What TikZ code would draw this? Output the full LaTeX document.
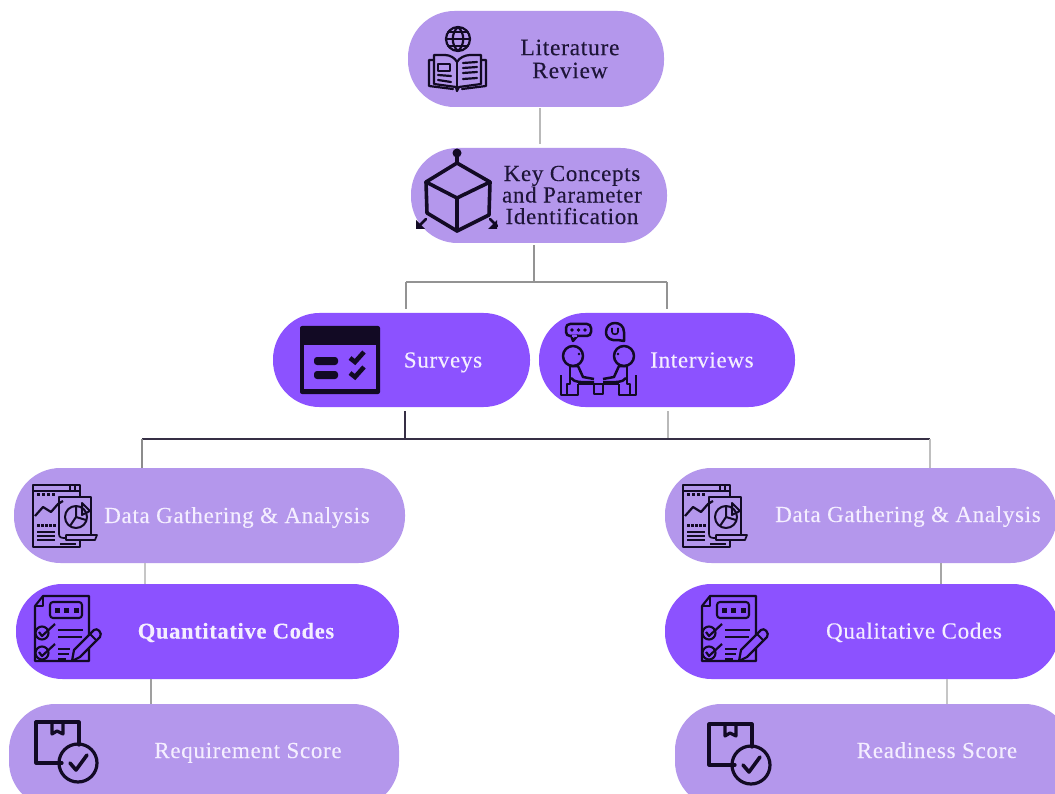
\documentclass[tikz,border=0pt]{standalone}
\usepackage{fontspec}
\setmainfont[LetterSpace=3,FakeBold=0.2]{Liberation Serif}
\definecolor{lightp}{HTML}{B497EC}
\definecolor{darkp}{HTML}{8C52FF}
\definecolor{ink}{HTML}{120A24}
\definecolor{pale}{HTML}{F4EEFF}
\definecolor{darktext}{HTML}{1E1538}
\tikzset{
  x=1pt,y=-1pt,
  pill/.style={rectangle,rounded corners=46.5pt,inner sep=0pt,minimum height=95pt},
  lightpill/.style={pill,fill=lightp},
  darkpill/.style={pill,fill=darkp},
  labeldark/.style={text=darktext,align=center,font=\fontsize{23.5}{23}\selectfont,inner sep=0pt},
  labelpale/.style={text=pale,anchor=base,font=\fontsize{23}{24}\selectfont,inner sep=0pt},
  conn/.style={line width=1.3pt,color=gray!60,shorten >=3pt,shorten <=1pt},
  connfull/.style={line width=1.2pt,color=#1},
  icon/.style={draw=ink,line width=2pt,line join=round,line cap=round},
  iconthin/.style={draw=ink,line width=1.7pt,line join=round},
}
\newcommand{\dataicon}[2]{%
\begin{scope}[shift={(#1,#2)},iconthin]
  \draw (33,485) rectangle (80,547);
  \draw (33,491) -- (80,491);
  \draw (70,485) -- (70,491) (75,485) -- (75,491);
  \fill[lightp] (59,497) rectangle (91,535);
  \draw (59,534) -- (59,497) -- (91,497) -- (91,535);
  \draw (59,534) .. controls (59,538) and (62,538) .. (66,538);
  \draw[fill=lightp] (66,535) -- (97,535) -- (95,540) -- (66,540) -- cycle;
  \draw[line width=2pt] (76,517) circle (11);
  \draw[line width=2pt] (76,517) -- (76,506) (76,517) -- (70,526) (76,517) -- (86,520);
  \draw[line width=2pt] (82,503) -- (90,511) -- (82,515) -- cycle;
  \draw[line width=2.2pt] (35,516) -- (43,507) -- (51,512) -- (58,504) -- (63,501);
  \foreach \xx in {37,42,47,52} \fill[ink] (\xx,493) rectangle +(3,2.5);
  \foreach \xx in {37,41,45,49,53} \fill[ink] (\xx,524) rectangle +(2.5,2.5);
  \draw[line width=2pt] (37,532) -- (55,532) (37,536) -- (55,536) (37,540) -- (55,540);
  \draw (60,544) -- (76,544);
\end{scope}}
\newcommand{\clipicon}[2]{%
\begin{scope}[shift={(#1,#2)},iconthin,line width=2.1pt]
  \draw (43,596) -- (89,596) -- (89,661) -- (35,661) -- (35,606) -- cycle;
  \draw (35,606) -- (43,606) -- (43,596);
  \draw[rounded corners=3pt] (50,602) rectangle (82,618);
  \foreach \xx in {57,66.5,76} \fill[ink] (\xx-2.5,607.5) rectangle +(5,5);
  \draw (42,633) circle (6.5);
  \draw (42,653) circle (6.5);
  \draw[line width=2.2pt] (39,632) -- (42,636) -- (55,624);
  \draw[line width=2.2pt] (39,652) -- (42,656) -- (55,644);
  \draw[line width=2.2pt] (58,630) -- (83,630) (58,637) -- (82,637) (58,649) -- (70,649) (58,654) -- (69,654) (58,659) -- (66,659);
  \draw[fill=darkp,line width=2.2pt] (72,661) -- (74,650) -- (94,630) .. controls (97,627) and (103,633) .. (100,637) -- (80,657) -- cycle;
  \draw (90,634) -- (97,641);
\end{scope}}
\newcommand{\boxicon}[2]{%
\begin{scope}[shift={(#1,#2)},icon,line width=3.2pt]
  \draw (62,763) -- (36,763) -- (36,722) -- (79,722) -- (79,745);
  \draw (52,722) -- (52,734) -- (57,731) -- (63,734) -- (63,722);
  \draw (78,763) circle (19);
  \draw[line width=3.6pt] (70,763) -- (76,770) -- (87,755);
\end{scope}}
\begin{document}
\begin{tikzpicture}
\useasboundingbox (0,0) rectangle (1055,794);
\clip (0,0) rectangle (1055,794);
\fill[white] (0,0) rectangle (1055,794);

% pills
\node[lightpill,minimum width=256pt,minimum height=96pt] (lit) at (536,59) {};
\node[lightpill,minimum width=256pt] (key) at (539,195.5) {};
\node[darkpill,minimum width=257pt,minimum height=94pt] (surveys) at (401.5,360) {};
\node[darkpill,minimum width=256pt,minimum height=94pt] (interviews) at (667,360) {};
\node[lightpill,minimum width=391pt] (dgaL) at (209.5,515.5) {};
\node[darkpill,minimum width=383pt] (quant) at (207.5,631.5) {};
\node[lightpill,minimum width=390pt,minimum height=104pt] (req) at (204,756) {};
\node[lightpill,minimum width=392pt] (dgaR) at (861,515.5) {};
\node[darkpill,minimum width=394pt] (qual) at (862,631.5) {};
\node[lightpill,minimum width=396pt,minimum height=104pt] (ready) at (873,756) {};

% junctions
\coordinate (topbus) at (534,282);
\coordinate (topL) at (406,282);
\coordinate (topR) at (667,282);
\coordinate (midS) at (405,439);
\coordinate (midI) at (668,439);
\coordinate (midL) at (142,439);
\coordinate (midR) at (930,439);
\coordinate (litdrop) at (540,144);
\coordinate (dL) at (145,563);
\coordinate (qL) at (151,679);
\coordinate (dR) at (941,563);
\coordinate (qR) at (947,679);

% connectors
\draw[conn,shorten <=1pt,shorten >=4pt,color=gray!55] (lit.south -| litdrop) -- (key.north -| litdrop);
\draw[conn,shorten <=2pt,shorten >=0pt,color=gray!85] (key.south -| topbus) -- (topbus);
\draw[connfull=gray!85] (topL) -- (topR);
\draw[conn,color=gray!85,shorten <=0pt,shorten >=4pt] (topL) -- (topL |- surveys.north);
\draw[conn,color=gray!85,shorten <=0pt,shorten >=4pt] (topR) -- (topR |- interviews.north);
\draw[conn,color=ink!85,shorten <=4pt,shorten >=0pt] (surveys.south -| midS) -- (midS);
\draw[conn,color=gray!55,shorten <=4pt,shorten >=0pt] (interviews.south -| midI) -- (midI);
\draw[connfull=ink!85,line width=1.5pt] (midL) -- (midR);
\draw[conn,color=gray!90,shorten <=0pt,shorten >=0pt] (midL) -- (midL |- dgaL.north);
\draw[conn,color=gray!50,shorten <=0pt,shorten >=0pt] (midR) -- (midR |- dgaR.north);
\draw[conn,line width=1.6pt,color=gray!45,shorten <=0pt,shorten >=0pt] (dL) -- (dL |- quant.north);
\draw[conn,line width=1.6pt,color=gray!75,shorten <=0pt,shorten >=0pt] (qL) -- (qL |- req.north);
\draw[conn,line width=1.6pt,color=gray!70,shorten <=0pt,shorten >=0pt] (dR) -- (dR |- qual.north);
\draw[conn,line width=1.6pt,color=gray!45,shorten <=0pt,shorten >=0pt] (qR) -- (qR |- ready.north);

% labels
\node[labeldark] (litT) at (570,59) {Literature\\Review};
\node[labeldark,font=\fontsize{23}{21.5}\selectfont] (keyT) at (572,195) {Key Concepts\\and Parameter\\Identification};
\node[labelpale] (surT) at (443,367.5) {Surveys};
\node[labelpale] (intT) at (702,367.5) {Interviews};
\node[labelpale] (dgaLT) at (237,523) {Data Gathering \& Analysis};
\node[labelpale,font=\bfseries\fontsize{22.5}{24}\selectfont] (quantT) at (236,638.5) {Quantitative Codes};
\node[labelpale] (reqT) at (248,758) {Requirement Score};
\node[labelpale] (dgaRT) at (908,522) {Data Gathering \& Analysis};
\node[labelpale] (qualT) at (914,638.5) {Qualitative Codes};
\node[labelpale] (readyT) at (937,758) {Readiness Score};

% book icon
\begin{scope}[icon,line width=2.2pt]
  \draw (458,39) circle (12);
  \draw (446,39) -- (470,39) (448,32) -- (468,32) (448,46) -- (468,46);
  \draw (458,27) .. controls (451,33) and (451,45) .. (458,51);
  \draw (458,27) .. controls (465,33) and (465,45) .. (458,51);
  \draw (445,55) -- (434,55) -- (434,84) -- (456,87) -- (457,91) -- (459,87) -- (481,84) -- (481,55) -- (470,55);
  \draw (434,60) -- (429,60) -- (429,86) -- (453,89) (481,60) -- (486,60) -- (486,86) -- (462,89);
  \draw (445,55) .. controls (450,55) and (455,58) .. (457,62) .. controls (459,58) and (465,55) .. (470,55);
  \draw (457,62) -- (457,88);
  \draw (438,64) rectangle (450,71);
  \draw (438,75) -- (451,76) (438,80) -- (451,82);
  \draw (463,63) -- (477,62) (463,68) -- (477,67) (463,73) -- (477,72) (463,79) -- (477,78);
\end{scope}

% cube icon
\begin{scope}[icon,line width=3.6pt]
  \draw (457,163) -- (490,182) -- (489,215) -- (457,231) -- (427,213) -- (426,182) -- cycle;
  \draw (426,182) -- (457,198) -- (490,182) (457,198) -- (457,231);
  \draw (457,153) -- (457,163);
  \fill[ink] (457,153) circle (4.5);
  \draw[line width=2.6pt] (419,226) -- (426,219);
  \fill[ink] (416,229) -- (416,220) -- (425,229) -- cycle;
  \draw[line width=2.6pt] (497,226) -- (490,219);
  \fill[ink] (497,229) -- (497,220) -- (488,229) -- cycle;
\end{scope}

% survey icon
\fill[ink,rounded corners=2pt] (300,326) rectangle (380,394);
\fill[darkp] (304,345) rectangle (376,389);
\fill[ink,rounded corners=3pt] (314,357) rectangle (338,365);
\fill[ink,rounded corners=3pt] (314,371) rectangle (338,379);
\draw[ink,line width=4.6pt] (350,358) -- (355,362) -- (364,352);
\draw[ink,line width=4.6pt] (350,373) -- (355,377) -- (364,367);

% interview icon
\begin{scope}[iconthin,line width=2.5pt]
  \draw[rounded corners=4pt] (566,324) rectangle (591,336);
  \draw[fill=darkp] (571,335) -- (573,341) -- (578,335);
  \draw[darkp,line width=2pt] (572,336) -- (577,336);
  \foreach \xx in {572,578.5,585} \fill[ink] (\xx,330) circle (1.8);
  \draw (624,341) -- (624,332) .. controls (624,320) and (606,320) .. (606,332) .. controls (606,339) and (612,341) .. (618,340) -- cycle;
  \draw[line width=1.6pt] (612,328) -- (612,332) .. controls (612,335) and (618,335) .. (618,332) -- (618,328);
  \draw (573,356) circle (10);
  \draw (624,356) circle (10);
  \fill[ink] (579,354) circle (1.4);
  \fill[ink] (618,354) circle (1.4);
  % seats and bodies
  \draw (561,375) -- (561,395) -- (578,395) -- (578,384);
  \draw (570,366) -- (570,384) -- (567,384) -- (567,395);
  \draw (570,366) -- (578,366) -- (583,377) -- (594,379);
  \draw (571,378) .. controls (575,383) and (580,382) .. (594,382);
  \draw (636,375) -- (636,395) -- (619,395) -- (619,384);
  \draw (627,366) -- (627,384) -- (630,384) -- (630,395);
  \draw (627,366) -- (619,366) -- (614,377) -- (603,379);
  \draw (626,378) .. controls (622,383) and (617,382) .. (603,382);
  % table
  \draw (578,384) -- (619,384);
  \draw (594,385) -- (594,394) -- (603,394) -- (603,385);
\end{scope}

\dataicon{0}{0}
\dataicon{650}{0}
\clipicon{0}{0}
\clipicon{667}{0}
\boxicon{0}{0}
\boxicon{673}{2}
\end{tikzpicture}
\end{document}
